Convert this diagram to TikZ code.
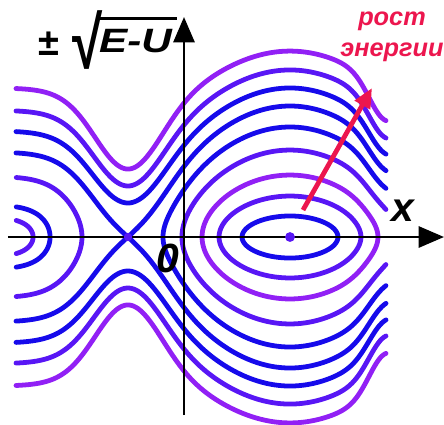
\documentclass[tikz,border=0pt]{standalone}
\usepackage{fontspec}
\setmainfont{Liberation Sans}
\usepackage{xcolor}
\usetikzlibrary{arrows.meta}

\definecolor{lvlblue}{RGB}{22,10,235}
\definecolor{lvlmid}{RGB}{88,22,245}
\definecolor{lvlviolet}{RGB}{145,32,245}
\definecolor{growred}{RGB}{236,22,78}

\tikzset{
  level/.style={line width=3.4pt, line cap=round},
  axis/.style={line width=1.8pt, -{Triangle[length=18pt,width=15pt]}},
  lab/.style={font=\bfseries\itshape\fontsize{29}{32}\selectfont, inner sep=0pt},
  ylab/.style={font=\bfseries\itshape\fontsize{24}{26}\selectfont, inner sep=0pt},
  risetext/.style={font=\bfseries\itshape\fontsize{18}{22}\selectfont, text=growred, align=center, inner sep=0pt},
  spot/.style={circle, fill=lvlmid, inner sep=0pt, minimum size=7pt},
}

\begin{document}
\begin{tikzpicture}[x=0.025cm, y=0.025cm,
  declare function={
    dl(\x) = -1-(\x);
    fleft(\x) = 1-0.42*(1-exp(-min(8.35*dl(\x)*dl(\x),12)));
    gg(\x) = 2*(\x)*(\x)-(\x)*(\x)*(\x)*(\x);
    fpot(\x) = ((\x)<-1) ? fleft(\x) : gg(\x);
    mm(\x) = 1-0.41*exp(-min(16.26*((\x)+1)*((\x)+1),12))-0.22*exp(-min(55*((\x)-0.586)*((\x)-0.586),12));
    yy(\x,\k) = 131*mm(\x)*sqrt(max(0,(\k)-fpot(\x)));
  }]
\useasboundingbox (-290,-187) rectangle (154,237);

% closed orbits round the well
\foreach \uo/\sc/\col in {0.296/0.392/lvlblue, 0.438/0.531/lvlmid, 0.543/0.667/lvlviolet} {
  \pgfmathsetmacro\lev{gg(\uo)}
  \draw[level,\col] plot[domain=0:360, samples=121, variable=\t, smooth]
    ({162*\uo*cos(\t)}, {((\t)>180 ? -\sc : \sc)*yy(\uo*cos(\t),\lev)}) -- cycle;
}

% wider orbits, cut at the right
\foreach \uo/\sc/\col in {0.667/0.798/lvlmid, 0.784/0.91/lvlblue} {
  \pgfmathsetmacro\lev{gg(\uo)}
  \pgfmathsetmacro\ta{acos(0.592/\uo)}
  \pgfmathsetmacro\tb{360-\ta}
  \draw[level,\col] plot[domain=\ta:\tb, samples=121, variable=\t, smooth]
    ({162*\uo*cos(\t)}, {((\t)>180 ? -\sc : \sc)*yy(\uo*cos(\t),\lev)});
}

% separatrix and the levels above it
\foreach \lev/\sc/\col in {1/1/lvlblue, 1.176/1.049/lvlblue, 1.366/1.091/lvlmid, 1.623/1.114/lvlviolet} {
  \draw[level,\col] plot[domain=-274:96, samples=186, variable=\t] (\t, {\sc*yy((\t)/162,\lev)});
  \draw[level,\col] plot[domain=-274:96, samples=186, variable=\t] (\t, {-\sc*yy((\t)/162,\lev)});
}

% branches left of the barrier
\foreach \d/\col in {0.284/lvlmid, 0.481/lvlblue, 0.586/lvlmid} {
  \pgfmathsetmacro\lev{fpot(-1-\d)}
  \draw[level,\col] plot[domain=-1:1, samples=61, variable=\t, smooth]
    ({162*(-1-\d-(0.69-\d)*(\t)*(\t))}, {((\t)<0 ? -1 : 1)*yy(-1-\d-(0.69-\d)*(\t)*(\t),\lev)});
}

% axes
\coordinate (xs) at (-282,0);
\coordinate (xe) at (154,0);
\coordinate (ys) at (-106,-178);
\coordinate (ye) at (-106,220);
\draw[axis] (xs) -- (xe);
\draw[axis] (ys) -- (ye);

\node[spot] (well) at (0,0) {};
\node[spot, minimum size=6pt] (top) at (-162,0) {};

% energy arrow
\coordinate (es) at (13,27);
\coordinate (ee) at (82,149);
\draw[growred, line width=3.4pt, -{Triangle[length=14pt,width=12pt]}] (es) -- (ee);

\node[lab] (zero) at (-122,-21) {0};
\node[lab] (xlab) at (113,26) {x};

% axis label: plus-minus, radical, radicand with its bar
\node[ylab, font=\bfseries\fontsize{27}{28}\selectfont] (pm) at (-241.5,193) {±};
\node[ylab, font=\bfseries\fontsize{52}{54}\selectfont, xscale=0.75, transform shape] (rad) at (-202,197) {√};
\node[ylab, anchor=base, xscale=1.25, transform shape] (eu) at (-154.5,185) {E-U};
\draw[line width=2.5pt] (-193,218.5) -- (-113,218.5);

\node[risetext] (rise) at (102,200) {рост\\энергии};
\end{tikzpicture}
\end{document}
